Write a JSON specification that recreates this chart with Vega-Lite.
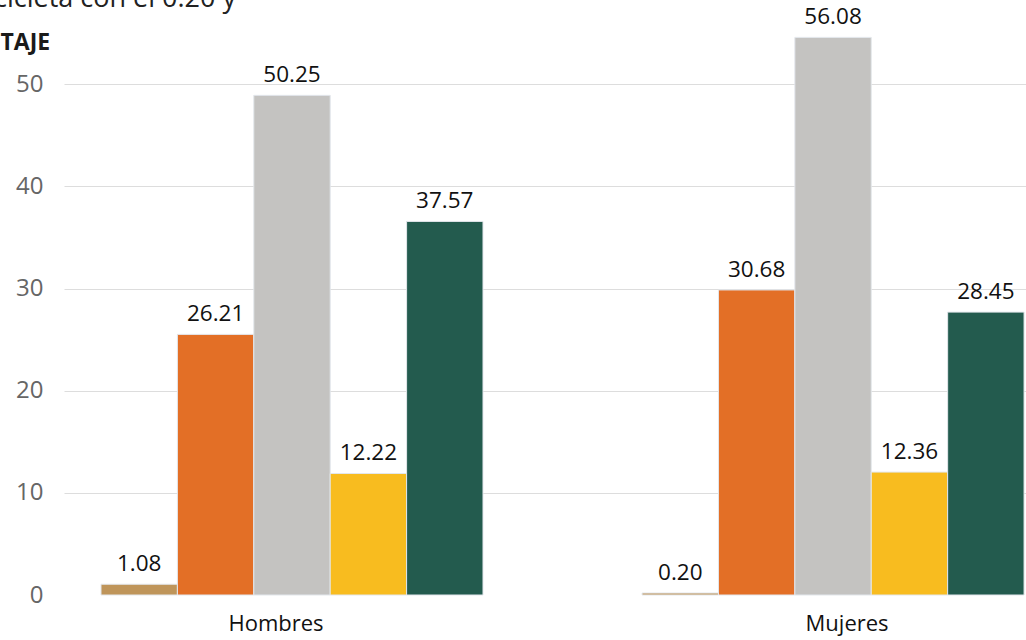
{
  "$schema": "https://vega.github.io/schema/vega-lite/v6.json",
  "autosize": {"type": "none"},
  "padding": {"left": 64, "top": 0, "right": 0, "bottom": 45},
  "width": 962,
  "height": 595,
  "background": "white",
  "title": {
    "text": "cicleta con el 0.20 y",
    "anchor": "start",
    "frame": "group",
    "orient": "top",
    "offset": 0,
    "baseline": "alphabetic",
    "dx": -70,
    "dy": 34,
    "font": "Open Sans",
    "fontSize": 27,
    "fontWeight": "normal",
    "color": "#222222"
  },
  "data": {
    "values": [
      {"sexo": "Hombres", "modo": "Bicicleta", "pct": 1.08},
      {"sexo": "Hombres", "modo": "Vehículo particular", "pct": 26.21},
      {"sexo": "Hombres", "modo": "Transporte público", "pct": 50.25},
      {"sexo": "Hombres", "modo": "Otro", "pct": 12.22},
      {"sexo": "Hombres", "modo": "Caminando", "pct": 37.57},
      {"sexo": "Mujeres", "modo": "Bicicleta", "pct": 0.20},
      {"sexo": "Mujeres", "modo": "Vehículo particular", "pct": 30.68},
      {"sexo": "Mujeres", "modo": "Transporte público", "pct": 56.08},
      {"sexo": "Mujeres", "modo": "Otro", "pct": 12.36},
      {"sexo": "Mujeres", "modo": "Caminando", "pct": 28.45}
    ]
  },
  "encoding": {
    "x": {
      "field": "sexo",
      "type": "nominal",
      "title": null,
      "scale": {"paddingInner": 0.294, "paddingOuter": 0.036, "align": 0.95},
      "axis": {
        "domain": false,
        "ticks": false,
        "labelAngle": 0,
        "labelFont": "Open Sans",
        "labelFontSize": 22,
        "labelColor": "#111111",
        "labelPadding": 18,
        "labelOffset": {"condition": {"test": "datum.value === 'Hombres'", "value": -16}, "value": 14}
      }
    },
    "xOffset": {
      "field": "modo",
      "type": "nominal",
      "sort": ["Bicicleta", "Vehículo particular", "Transporte público", "Otro", "Caminando"],
      "scale": {"paddingInner": 0, "paddingOuter": 0}
    },
    "y": {
      "field": "pct",
      "type": "quantitative",
      "title": "TAJE",
      "scale": {"domain": [0, 59.84], "nice": false},
      "axis": {
        "values": [0, 10.272, 20.544, 30.816, 41.088, 51.36],
        "labelExpr": "format(datum.value / 1.0272, '.0f')",
        "domain": false,
        "ticks": false,
        "labelFont": "Open Sans",
        "labelFontSize": 24,
        "labelColor": "#666666",
        "labelPadding": 21,
        "gridColor": {"condition": {"test": "datum.value === 0", "value": "transparent"}, "value": "#dddddd"},
        "gridWidth": 1,
        "titleAngle": 0,
        "titleAlign": "left",
        "titleBaseline": "alphabetic",
        "titleX": -64,
        "titleY": 49,
        "titleFont": "Liberation Sans Narrow, Open Sans",
        "titleFontSize": 23,
        "titleFontWeight": "bold",
        "titleColor": "#1a1a1a"
      }
    }
  },
  "layer": [
    {
      "mark": {"type": "bar", "stroke": "#e3e7ec", "strokeWidth": 1},
      "encoding": {
        "color": {
          "field": "modo",
          "type": "nominal",
          "legend": null,
          "scale": {
            "domain": ["Bicicleta", "Vehículo particular", "Transporte público", "Otro", "Caminando"],
            "range": ["#BF955A", "#E36F26", "#C4C3C1", "#F8BC1F", "#235B4E"]
          }
        }
      }
    },
    {
      "mark": {"type": "text", "baseline": "bottom", "dy": -8, "font": "Open Sans", "fontSize": 22.5, "color": "#111111"},
      "encoding": {
        "text": {"field": "pct", "type": "quantitative", "format": ".2f"}
      }
    }
  ],
  "config": {"view": {"stroke": null}}
}
